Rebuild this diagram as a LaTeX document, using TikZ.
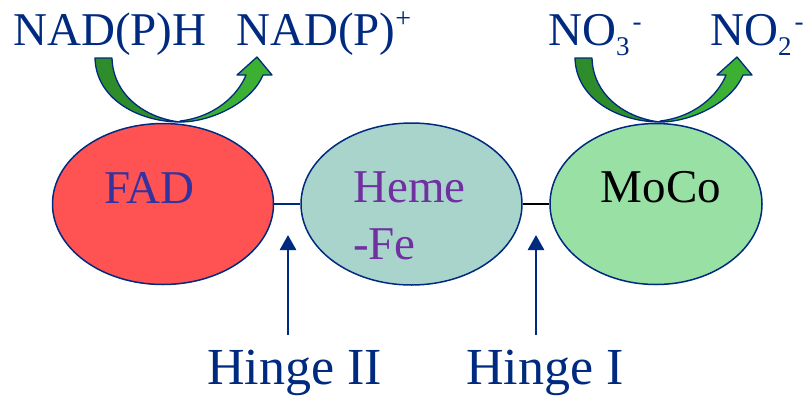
\documentclass[tikz,border=0pt]{standalone}
\usepackage{fontspec}
\setmainfont{Liberation Serif}
\usetikzlibrary{shapes.geometric,arrows.meta}
\definecolor{navy}{RGB}{0,42,128}
\definecolor{fadred}{RGB}{255,82,82}
\definecolor{hemeteal}{RGB}{169,212,203}
\definecolor{mocogreen}{RGB}{152,224,164}
\definecolor{darkarm}{RGB}{46,140,42}
\definecolor{lightarm}{RGB}{60,176,50}
\definecolor{fadtext}{RGB}{51,51,160}
\definecolor{hemetext}{RGB}{112,48,160}
\tikzset{
  cof/.style={ellipse, draw=navy, line width=1.5pt, inner sep=0pt},
  bigtxt/.style={inner sep=0pt, anchor=base west, font=\fontsize{47}{50}\selectfont},
  hingetxt/.style={inner sep=0pt, anchor=base west, text=navy, font=\fontsize{52}{56}\selectfont},
  armdark/.style={fill=darkarm, draw=navy, line width=1.3pt, line join=round},
  armlight/.style={fill=lightarm, draw=navy, line width=1.3pt, line join=round},
  hingearrow/.style={draw=navy, line width=2.7pt, -{Triangle[length=15pt,width=16pt]}}
}
\newcommand{\subnum}[1]{\raisebox{-10pt}{\fontsize{27}{27}\selectfont #1}}
\newcommand{\supmin}{\kern3pt\raisebox{15pt}{\fontsize{27}{27}\selectfont -}}
\begin{document}
\begin{tikzpicture}[x=1pt,y=-1pt]
\useasboundingbox (0,0) rectangle (806,397);

% curved arrows
\foreach \s in {0,480}{
\begin{scope}[shift={(\s,0)}]
  \path[armlight] (180,122) .. controls (212,122) and (252,102) .. (263,75)
     -- (272,75) -- (257,57) -- (237,75) -- (246,75)
     .. controls (238,95) and (215,117) .. (180,121) -- cycle;
  \path[armdark] (95,58) .. controls (96,100) and (140,122) .. (180,122)
     .. controls (145,118) and (113,95) .. (112,58) -- cycle;
\end{scope}
}

% cofactors
\node[cof, fill=fadred, minimum width=221pt, minimum height=161pt] (fad) at (163,204) {};
\node[cof, fill=hemeteal, minimum width=221pt, minimum height=162pt] (heme) at (411.5,204) {};
\node[cof, fill=mocogreen, minimum width=212pt, minimum height=161pt] (moco) at (656,204) {};

\draw[navy, line width=1.5pt] (fad.east) -- (heme.west);
\draw[black, line width=1.5pt] (heme.east) -- (moco.west);

\node[bigtxt, text=fadtext] (fadl) at (104,203) {FAD};
\node[bigtxt, text=hemetext] (hemel) at (353,202) {Heme};
\node[bigtxt, text=hemetext] (fel) at (353,259) {-Fe};
\node[bigtxt, text=black, anchor=base] (mocol) at (661,202) {MoCo};

% top labels
\node[bigtxt, text=navy] (nadph) at (13,45) {NAD(P)H};
\node[bigtxt, text=navy] (nadp) at (236,45) {NAD(P)\raisebox{18pt}{\fontsize{28}{28}\selectfont +}};
\node[bigtxt, text=navy] (no3) at (548,45) {NO\subnum{3}\supmin};
\node[bigtxt, text=navy] (no2) at (710,45) {NO\subnum{2}\supmin};

% hinges
\coordinate (h2b) at (288,335);
\coordinate (h2t) at (288,235);
\coordinate (h1b) at (536,335);
\coordinate (h1t) at (536,235);
\draw[hingearrow] (h2b) -- (h2t);
\draw[hingearrow] (h1b) -- (h1t);
\node[hingetxt] (hinge2) at (207,384) {Hinge II};
\node[hingetxt] (hinge1) at (466,384) {Hinge I};
\end{tikzpicture}
\end{document}
